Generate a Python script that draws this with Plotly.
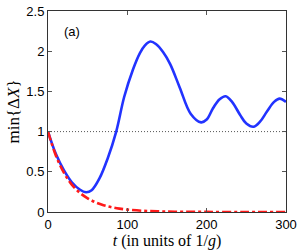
import plotly.graph_objects as go

# Blue solid curve: min{ΔX} vs t
t_blue = [0, 10, 20, 30, 40, 48, 55, 65, 75, 86, 96, 107, 116, 122, 129, 136, 145, 154,
          166, 180, 193, 200, 208, 216, 224, 232, 242, 250, 259, 267, 276, 285, 292, 300]
v_blue = [1.0, 0.72, 0.52, 0.37, 0.28, 0.245, 0.27, 0.42, 0.66, 1.0, 1.43, 1.77, 1.98,
          2.07, 2.12, 2.09, 1.99, 1.84, 1.55, 1.22, 1.115, 1.15, 1.29, 1.40, 1.44, 1.37,
          1.21, 1.10, 1.06, 1.12, 1.25, 1.37, 1.41, 1.37]

# Red dash-dot decaying curve
t_red = [0, 10, 20, 30, 40, 50, 60, 70, 80, 90, 100, 120, 140, 160, 200, 250, 300]
v_red = [1.0, 0.70, 0.49, 0.34, 0.24, 0.17, 0.12, 0.085, 0.06, 0.042, 0.03, 0.015,
         0.008, 0.004, 0.001, 0.0, 0.0]

# Dotted reference level
t_ref = [0, 300]
v_ref = [1, 1]

x_ticks = [0, 100, 200, 300]
y_ticks = [0, 0.5, 1, 1.5, 2, 2.5]

fig = go.Figure()
fig.add_trace(go.Scatter(x=t_ref, y=v_ref, mode="lines",
                         line=dict(color="#555555", width=1, dash="1px,2px"),
                         hoverinfo="skip"))
fig.add_trace(go.Scatter(x=t_blue, y=v_blue, mode="lines",
                         line=dict(color="#2233ff", width=2.6, shape="spline", smoothing=1.0)))
fig.add_trace(go.Scatter(x=t_red, y=v_red, mode="lines",
                         line=dict(color="#ff1a1a", width=2.6, dash="dashdot",
                                   shape="spline", smoothing=1.0)))

axis_common = dict(showline=True, linecolor="#333333", linewidth=1, mirror="ticks",
                   ticks="inside", ticklen=4, tickcolor="#555555", showgrid=False,
                   zeroline=False, automargin=False,
                   tickfont=dict(family="Liberation Sans, Arial", size=13, color="black"))

fig.update_layout(
    width=300, height=252,
    margin=dict(l=48, r=14, t=11, b=40, pad=0, autoexpand=False),
    paper_bgcolor="white", plot_bgcolor="white",
    showlegend=False,
    xaxis=dict(range=[0, 300], tickvals=x_ticks, ticktext=[str(v) for v in x_ticks],
               title=dict(text="<i>t</i> (in units of 1/<i>g</i>)",
                          font=dict(family="Liberation Serif, Times New Roman", size=16,
                                    color="black"),
                          standoff=2),
               **axis_common),
    yaxis=dict(range=[0, 2.5], tickvals=y_ticks, ticktext=["0", "0.5", "1", "1.5", "2", "2.5"],
               title=dict(text="min{Δ<i>X</i>}",
                          font=dict(family="Liberation Serif, Times New Roman", size=17,
                                    color="black"),
                          standoff=2),
               **axis_common),
    annotations=[dict(text="(a)", xref="paper", yref="paper", x=0.06, y=0.90,
                      xanchor="left", yanchor="middle", showarrow=False,
                      font=dict(family="Liberation Sans, Arial", size=13, color="black"))],
)

fig.write_html("out.html", config={"displayModeBar": False},
               post_script="document.body.style.margin='0';document.body.style.overflow='hidden';")
